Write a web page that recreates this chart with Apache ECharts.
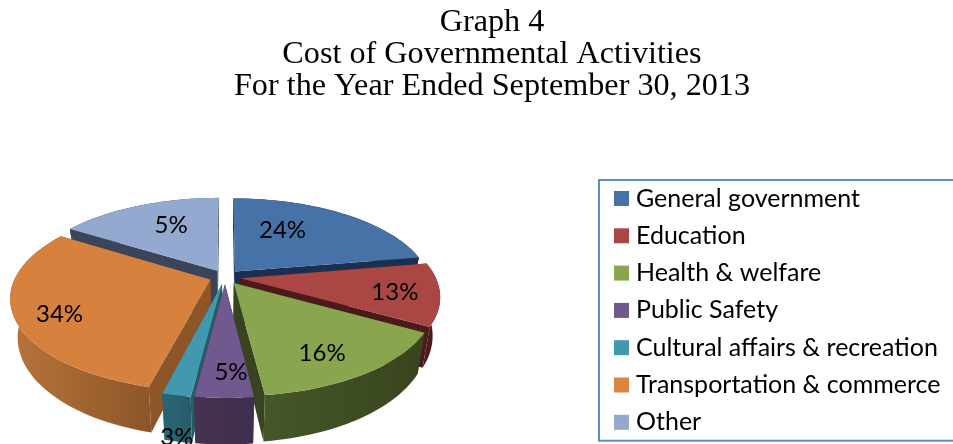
<!DOCTYPE html>
<html lang="en">
<head>
    <meta charset="UTF-8">
    <title>Graph 4</title>
    <script src="https://cdn.jsdelivr.net/npm/echarts@6/dist/echarts.min.js"></script>
    <style>
        html, body { margin: 0; padding: 0; background: #fff; }
        #chart { width: 953px; height: 444px; }
    </style>
</head>
<body>
<div id="chart"></div>
<script type="text/javascript">
    var categories = ['General government', 'Education', 'Health & welfare', 'Public Safety',
        'Cultural affairs & recreation', 'Transportation & commerce', 'Other'];
    // size of each slice as it is drawn in the picture, in percent
    var shares = [22.3, 10.9, 14.9, 3.9, 1.9, 30, 16.1];
    // printed labels, they do not always agree with the drawn size
    var labels = ['24%', '13%', '16%', '5%', '3%', '34%', '5%'];

    var topColors = ['#4672A8', '#AA4644', '#89A54E', '#71588F', '#4198AF', '#D6813D', '#93A9CF'];
    var wallLeft = ['#1b3050', '#4a1b1a', '#465728', '#463352', '#2a6675', '#b8743a', '#3a445a'];
    var wallRight = ['#1b3050', '#4a1b1a', '#38441f', '#3f2e4e', '#265c6a', '#8d5628', '#3a445a'];
    var legendColors = ['#4672A8', '#AA4644', '#89A54E', '#71588F', '#4198AF', '#DB843D', '#93A9CF'];
    var paintOrder = [6, 0, 1, 5, 2, 4, 3];
    // where the label sits: turn from the slice middle (degrees) and distance from centre
    var labelTurn = [-12, 1.5, 4, -2, -3, -5, 4];
    var labelDist = [0.585, 0.78, 0.775, 0.808, 1.274, 0.798, 0.644];

    var cx = 225, cy = 277, rx = 195, ry = 89;
    var persp = 0.19, explode = 0.08, wallHeight = 37, bottomShrink = 0.965;

    function project(u, v, low) {
        var s = 1 / (1 + persp * v);
        var x = cx + rx * u * s;
        var y = cy - ry * v * s;
        if (low) {
            x = cx + (x - cx) * bottomShrink;
            y = y + wallHeight * s;
        }
        return [x, y];
    }

    function sliceRange(i) {
        var total = 0, before = 0;
        for (var k = 0; k < shares.length; k++) {
            if (k < i) before += shares[k];
            total += shares[k];
        }
        return [before / total * 360, (before + shares[i]) / total * 360];
    }

    function renderSlice(i) {
        var range = sliceRange(i);
        var a0 = range[0], a1 = range[1], mid = (a0 + a1) / 2;
        var ox = explode * Math.sin(mid * Math.PI / 180);
        var oy = explode * Math.cos(mid * Math.PI / 180);
        function pt(deg, r, low) {
            var t = deg * Math.PI / 180;
            return project(ox + r * Math.sin(t), oy + r * Math.cos(t), low);
        }
        var steps = Math.max(2, Math.ceil((a1 - a0) / 2));
        var topArc = [], lowArc = [];
        for (var k = 0; k <= steps; k++) {
            var deg = a0 + (a1 - a0) * k / steps;
            topArc.push(pt(deg, 1, false));
            lowArc.push(pt(deg, 1, true));
        }
        var xs = topArc.concat(lowArc).map(function (p) { return p[0]; });
        var wallFill = new echarts.graphic.LinearGradient(Math.min.apply(null, xs), 0, Math.max.apply(null, xs), 0, [
            {offset: 0, color: wallLeft[i]},
            {offset: 1, color: wallRight[i]}
        ], true);
        function poly(points, fill) {
            return {type: 'polygon', silent: true, shape: {points: points}, style: {fill: fill}};
        }
        var apex = pt(0, 0, false), apexLow = pt(0, 0, true);
        var children = [
            poly([apex, topArc[0], lowArc[0], apexLow], wallRight[i]),
            poly([apex, topArc[steps], lowArc[steps], apexLow], wallRight[i]),
            poly(topArc.concat(lowArc.slice().reverse()), wallFill),
            poly([apex].concat(topArc), topColors[i])
        ];
        var lp = pt(mid + labelTurn[i], labelDist[i], false);
        children.push({
            type: 'text',
            silent: true,
            style: {
                text: labels[i],
                x: lp[0],
                y: lp[1],
                fill: '#000',
                font: '24px Lato',
                textAlign: 'center',
                textVerticalAlign: 'middle'
            }
        });
        return {type: 'group', children: children};
    }

    var series = categories.map(function (name, i) {
        return {
            name: name,
            type: 'custom',
            coordinateSystem: 'none',
            z: 2 + paintOrder.indexOf(i),
            itemStyle: {color: legendColors[i]},
            animation: false,
            data: [[shares[i]]],
            renderItem: function () { return renderSlice(i); }
        };
    });

    var myChart = echarts.init(document.getElementById('chart'));
    myChart.setOption({
        backgroundColor: '#fff',
        animation: false,
        title: {
            text: 'Graph 4\nCost of Governmental Activities\nFor the Year Ended September 30, 2013',
            left: 487,
            top: 2,
            textAlign: 'center',
            textStyle: {
                fontFamily: 'Liberation Serif',
                fontWeight: 'normal',
                fontSize: 32.2,
                lineHeight: 32,
                color: '#000'
            }
        },
        legend: {
            data: categories,
            orient: 'vertical',
            left: 599,
            top: 180,
            height: 400,
            icon: 'rect',
            itemWidth: 15,
            itemHeight: 15,
            itemGap: 12.3,
            selectedMode: false,
            padding: [6, 60, 6, 15],
            borderColor: '#5b8cc4',
            borderWidth: 2,
            textStyle: {fontFamily: 'Lato', fontSize: 25, color: '#000', padding: [0, 0, 0, 2]}
        },
        series: series
    });
</script>
</body>
</html>
